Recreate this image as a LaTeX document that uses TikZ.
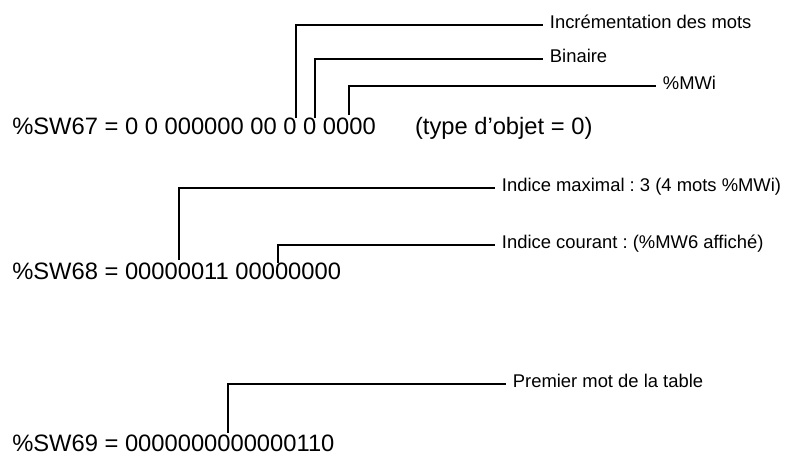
\documentclass[tikz,border=0pt]{standalone}
\usepackage{fontspec}
\setmainfont{Liberation Sans}
\usetikzlibrary{positioning}
\frenchspacing
\tikzset{
  mot/.style={anchor=base west, inner sep=0pt, font=\fontsize{17.8}{20}\selectfont},
  legende/.style={anchor=west, inner xsep=5pt, inner ysep=0pt, text height=8pt, text depth=3pt, font=\fontsize{13.8}{16}\selectfont},
  trait/.style={line width=1.4pt}
}
\begin{document}
\begin{tikzpicture}[x=0.75pt,y=-0.75pt]
\useasboundingbox (0,0) rectangle (785,455);

% %SW67
\node[mot] (sw67) at (12,134) {\%SW67 = 0 0 000000 00 0 0 0000};
\node[mot, base right=29pt of sw67] (type) {(type d’objet = 0)};
\coordinate (b67a) at (296,118);
\coordinate (b67b) at (315,118);
\coordinate (b67c) at (349,115);
\node[legende] (incr) at (543,25) {Incrémentation des mots};
\node[legende] (bin) at (543,59) {Binaire};
\node[legende] (mwi) at (656,86) {\%MWi};
\draw[trait] (b67a) |- (incr);
\draw[trait] (b67b) |- (bin);
\draw[trait] (b67c) |- (mwi);

% %SW68
\node[mot] (sw68) at (12,279) {\%SW68 = 00000011 00000000};
\coordinate (b68a) at (179,260);
\coordinate (b68b) at (278,263);
\node[legende] (imax) at (495,188) {Indice maximal : 3 (4 mots \%MWi)};
\node[legende] (icour) at (495,245) {Indice courant : (\%MW6 affiché)};
\draw[trait] (b68a) |- (imax);
\draw[trait] (b68b) |- (icour);

% %SW69
\node[mot] (sw69) at (12,451) {\%SW69 = 0000000000000110};
\coordinate (b69) at (228,433);
\node[legende] (prem) at (506,384) {Premier mot de la table};
\draw[trait] (b69) |- (prem);
\end{tikzpicture}
\end{document}
